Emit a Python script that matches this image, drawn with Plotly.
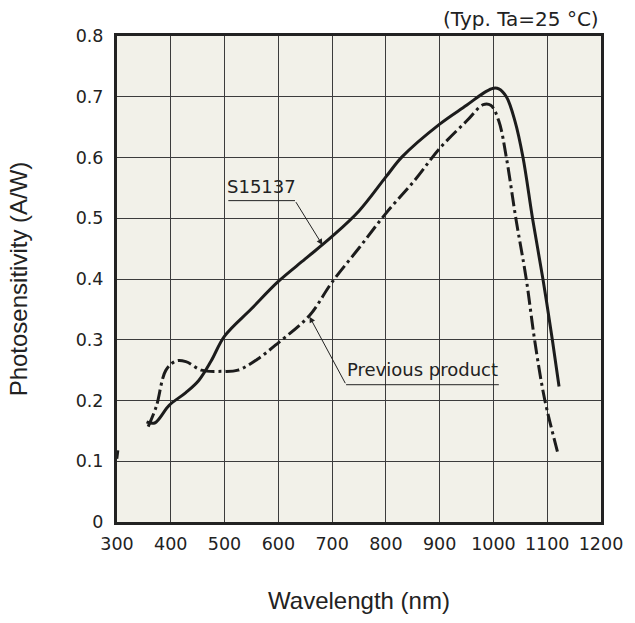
import plotly.graph_objects as go

# S15137 (solid)
s15137_wl = [355, 370, 397, 428, 452, 475, 500, 550, 600, 650, 700, 750, 800, 830,
             900, 950, 985, 1000, 1010, 1024, 1040, 1055, 1073, 1092, 1110, 1122]
s15137_val = [0.165, 0.163, 0.192, 0.213, 0.233, 0.265, 0.306, 0.351, 0.396, 0.433,
              0.470, 0.512, 0.568, 0.601, 0.655, 0.686, 0.708, 0.714, 0.713, 0.700,
              0.660, 0.600, 0.498, 0.400, 0.297, 0.223]

# Previous product (dash-dot)
prev_wl = [358, 373, 391, 410, 428, 457, 494, 525, 561, 600, 658, 700, 750, 800,
           854, 900, 950, 981, 995, 1010, 1024, 1042, 1061, 1077, 1095, 1119]
prev_val = [0.157, 0.190, 0.250, 0.265, 0.264, 0.250, 0.248, 0.250, 0.268, 0.295,
            0.340, 0.395, 0.451, 0.508, 0.563, 0.615, 0.660, 0.687, 0.686, 0.660,
            0.600, 0.498, 0.400, 0.297, 0.203, 0.116]

# small stray mark at the left edge
stray_wl = [300, 302]
stray_val = [0.104, 0.118]

x_ticks = [300, 400, 500, 600, 700, 800, 900, 1000, 1100, 1200]
y_ticks = [0, 0.1, 0.2, 0.3, 0.4, 0.5, 0.6, 0.7, 0.8]
y_tick_text = ["0", "0.1", "0.2", "0.3", "0.4", "0.5", "0.6", "0.7", "0.8"]

ink = "#1c1c1c"
fig = go.Figure()
fig.add_trace(go.Scatter(x=s15137_wl, y=s15137_val, mode="lines", name="S15137",
                         line=dict(color=ink, width=3, shape="spline", smoothing=1.0)))
fig.add_trace(go.Scatter(x=prev_wl, y=prev_val, mode="lines", name="Previous product",
                         line=dict(color=ink, width=3, shape="spline", smoothing=1.0,
                                   dash="14px,4px,3px,4px")))
fig.add_trace(go.Scatter(x=stray_wl, y=stray_val, mode="lines", showlegend=False,
                         line=dict(color=ink, width=2.5)))

label_font = dict(family="DejaVu Sans", size=18, color="#222")

# S15137 label
fig.add_annotation(x=569, y=0.532, text="S15137", showarrow=False, xref="x", yref="y",
                   xanchor="center", yanchor="bottom", font=label_font)
fig.add_shape(type="line", x0=507, x1=631, y0=0.529, y1=0.529, xref="x", yref="y",
              line=dict(color="#222", width=1))
fig.add_annotation(x=682, y=0.456, ax=631, ay=0.529, axref="x", ayref="y", xref="x", yref="y",
                   text="", showarrow=True, arrowhead=2, arrowsize=1.2, arrowwidth=1,
                   arrowcolor="#222")

# Previous product label
fig.add_annotation(x=868, y=0.230, text="Previous product", showarrow=False, xref="x", yref="y",
                   xanchor="center", yanchor="bottom", font=label_font)
fig.add_shape(type="line", x0=726, x1=1010, y0=0.226, y1=0.226, xref="x", yref="y",
              line=dict(color="#222", width=1))
fig.add_annotation(x=658, y=0.338, ax=726, ay=0.226, axref="x", ayref="y", xref="x", yref="y",
                   text="", showarrow=True, arrowhead=2, arrowsize=1.2, arrowwidth=1,
                   arrowcolor="#222")

# condition note
fig.add_annotation(x=1.0, y=1.0, xref="paper", yref="paper", xanchor="right", yanchor="bottom",
                   yshift=3, text="(Typ. Ta=25 °C)", showarrow=False,
                   font=dict(family="DejaVu Sans", size=20, color="#222"))

fig.update_layout(
    width=635, height=623,
    margin=dict(l=117, r=26, t=36, b=99),
    paper_bgcolor="white", plot_bgcolor="#f2f1e9",
    showlegend=False,
    font=dict(family="DejaVu Sans", size=17.5, color="#222"),
)
fig.update_xaxes(range=[300, 1200], tickvals=x_ticks, ticks="", showgrid=True,
                 gridcolor="#3c3c3c", gridwidth=1, showline=True, linecolor="#222",
                 linewidth=3, mirror=True, zeroline=False, ticklabelstandoff=4,
                 title=dict(text="Wavelength (nm)", standoff=40,
                            font=dict(family="Liberation Sans", size=24, color="#222")))
fig.update_yaxes(range=[0, 0.8], tickvals=y_ticks, ticktext=y_tick_text, ticks="",
                 showgrid=True, gridcolor="#3c3c3c", gridwidth=1, showline=True,
                 linecolor="#222", linewidth=3, mirror=True, zeroline=False,
                 ticklabelstandoff=7,
                 title=dict(text="Photosensitivity (A/W)", standoff=42,
                            font=dict(family="Liberation Sans", size=24, color="#222")))

fig.write_html("out.html")
